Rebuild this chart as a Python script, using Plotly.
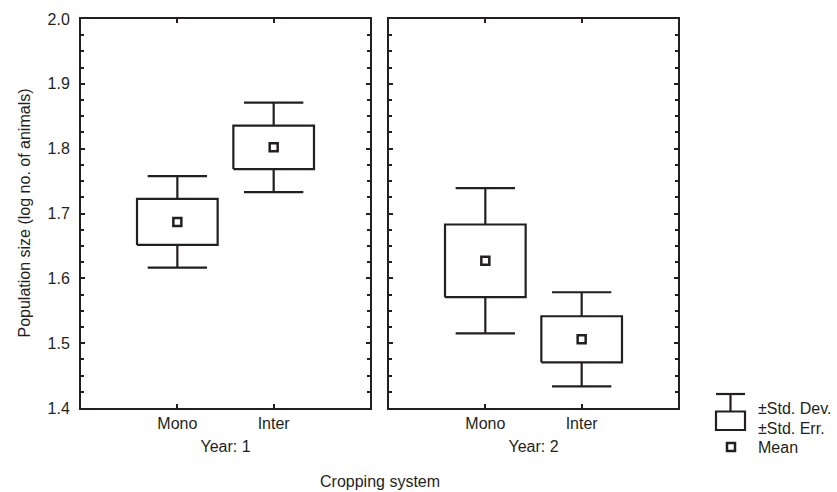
import plotly.graph_objects as go
from plotly.subplots import make_subplots

# ---- data ----
categories = ["Mono", "Inter"]
years = ["Year: 1", "Year: 2"]
mean_year1 = [1.687, 1.802]
se_year1 = [0.0355, 0.0335]
sd_year1 = [0.0705, 0.069]
mean_year2 = [1.627, 1.506]
se_year2 = [0.056, 0.0355]
sd_year2 = [0.112, 0.0725]
y_tick_vals = [1.4, 1.5, 1.6, 1.7, 1.8, 1.9, 2.0]
y_tick_text = ["1.4", "1.5", "1.6", "1.7", "1.8", "1.9", "2.0"]
legend_labels = ["\u00b1Std. Dev.", "\u00b1Std. Err.", "Mean"]

INK = "#231f20"
FONT = dict(family="Liberation Sans, Arial, sans-serif", size=16, color=INK)
BOX_HALF = 0.4185   # half box width in category units
CAP_HALF = 0.308    # half whisker-cap width
LW = 2.2

fig = make_subplots(rows=1, cols=2, shared_yaxes=True, horizontal_spacing=0.0318)

xpos = list(range(len(categories)))
panels = [(mean_year1, se_year1, sd_year1), (mean_year2, se_year2, sd_year2)]
for i, (m, se, sd) in enumerate(panels, start=1):
    bx, by, wx, wy = [], [], [], []
    for c, mu, e, d in zip(xpos, m, se, sd):
        q1, q3, lo, hi = mu - e, mu + e, mu - d, mu + d
        bx += [c - BOX_HALF, c + BOX_HALF, c + BOX_HALF, c - BOX_HALF, c - BOX_HALF, None]
        by += [q1, q1, q3, q3, q1, None]
        wx += [c, c, None, c - CAP_HALF, c + CAP_HALF, None, c, c, None, c - CAP_HALF, c + CAP_HALF, None]
        wy += [q3, hi, None, hi, hi, None, q1, lo, None, lo, lo, None]
    fig.add_trace(go.Scatter(x=wx, y=wy, mode="lines", line=dict(color=INK, width=LW),
                             showlegend=False, hoverinfo="skip"), row=1, col=i)
    fig.add_trace(go.Scatter(x=bx, y=by, mode="lines", fill="toself", fillcolor="white",
                             line=dict(color=INK, width=LW), showlegend=False, hoverinfo="skip"),
                  row=1, col=i)
    fig.add_trace(go.Scatter(
        x=xpos, y=m, mode="markers",
        marker=dict(symbol="square-open", size=8, color=INK, line=dict(width=2.5, color=INK)),
        showlegend=False, hoverinfo="skip"), row=1, col=i)

axis_common = dict(showline=True, linewidth=2, linecolor=INK, mirror="ticks",
                   ticks="inside", ticklen=4, tickwidth=1.5, tickcolor=INK,
                   showgrid=False, zeroline=False, tickfont=FONT)

for i in (1, 2):
    fig.update_xaxes(range=[-1, 2], tickvals=xpos, ticktext=categories,
                     title=dict(text=years[i-1], font=FONT, standoff=10),
                     **axis_common, row=1, col=i)
    fig.update_yaxes(range=[1.4, 2.0], tickvals=y_tick_vals, ticktext=y_tick_text,
                     ticklabelstandoff=6,
                     minor=dict(dtick=0.025, tick0=1.4, ticks="inside", ticklen=3, tickcolor=INK, tickwidth=1.5),
                     **axis_common, row=1, col=i)
fig.update_yaxes(showticklabels=False, row=1, col=2)
fig.update_xaxes(domain=[0, 0.4841], row=1, col=1)
fig.update_xaxes(domain=[0.5159, 1], row=1, col=2)

L, R, T, B = 81, 159, 19, 84
PW, PH = 837 - L - R, 492 - T - B
def px(x):
    return (x - L) / PW
def py(y):
    return (T + PH - y) / PH

annotations = [
    dict(text="Population size (log no. of animals)", x=px(24), y=0.5, xref="paper", yref="paper",
         textangle=-90, showarrow=False, font=FONT, xanchor="center", yanchor="middle"),
    dict(text="Cropping system", x=0.5, y=py(481), xref="paper", yref="paper",
         showarrow=False, font=FONT, xanchor="center", yanchor="middle"),
]
for k, lab in enumerate(legend_labels):
    annotations.append(dict(text=lab, x=px(756), y=py(408 + 20 * k), xref="paper", yref="paper",
                            showarrow=False, font=FONT, xanchor="left", yanchor="middle"))

line = dict(color=INK, width=LW)
shapes = [
    dict(type="line", xref="paper", yref="paper", x0=px(716), x1=px(745), y0=py(394), y1=py(394), line=line),
    dict(type="line", xref="paper", yref="paper", x0=px(730.5), x1=px(730.5), y0=py(394), y1=py(411.5), line=line),
    dict(type="rect", xref="paper", yref="paper", x0=px(716), x1=px(745), y0=py(411.5), y1=py(430), line=line),
    dict(type="rect", xref="paper", yref="paper", x0=px(727), x1=px(735), y0=py(443), y1=py(451),
         line=dict(color=INK, width=2.5)),
]

fig.update_layout(width=837, height=492, margin=dict(l=L, r=R, t=T, b=B, autoexpand=False),
                  plot_bgcolor="white", paper_bgcolor="white", font=FONT,
                  annotations=annotations, shapes=shapes, showlegend=False)

fig.write_html("out.html", config={"displayModeBar": False},
               post_script="document.body.style.margin='0';document.body.style.overflow='hidden';")
